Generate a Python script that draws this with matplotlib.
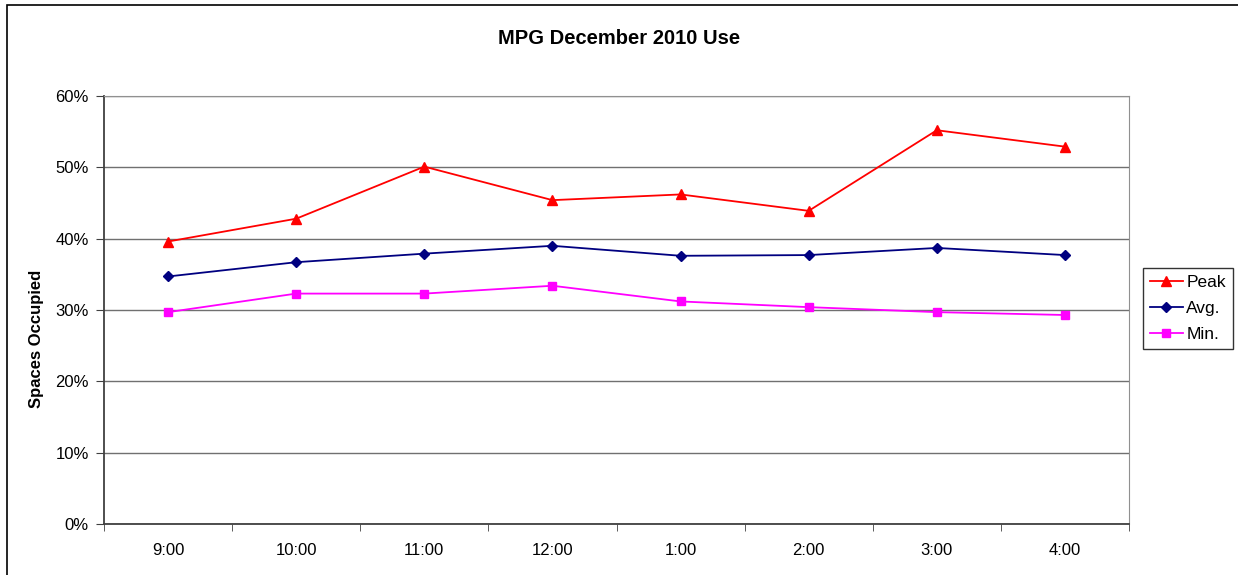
import matplotlib
matplotlib.use('Agg')
import matplotlib.pyplot as plt
from matplotlib.patches import Rectangle
from matplotlib.ticker import FuncFormatter, FixedLocator

hours = ['9:00', '10:00', '11:00', '12:00', '1:00', '2:00', '3:00', '4:00']
peak = [39.6, 42.8, 50.1, 45.4, 46.2, 43.9, 55.2, 52.9]
avg = [34.7, 36.7, 37.9, 39.0, 37.6, 37.7, 38.7, 37.7]
mins = [29.7, 32.3, 32.3, 33.4, 31.2, 30.4, 29.7, 29.3]

plt.rcParams['font.family'] = ['Liberation Sans', 'DejaVu Sans']

fig = plt.figure(figsize=(12.38, 5.75), dpi=100)
ax = fig.add_axes([104/1238, 1-524/575, (1129-104)/1238, (524-96)/575])

x = list(range(len(hours)))
ax.plot(x, peak, color='#ff0000', marker='^', markersize=7, lw=1.3, label='Peak')
ax.plot(x, avg, color='#000080', marker='D', markersize=5, lw=1.3, label='Avg.')
ax.plot(x, mins, color='#ff00ff', marker='s', markersize=6, lw=1.3, label='Min.')

ax.set_xlim(-0.5, len(hours)-0.5)
ax.set_ylim(0, 60)
ax.set_yticks(range(0, 61, 10))
ax.yaxis.set_major_formatter(FuncFormatter(lambda v, p: '%d%%' % v))
ax.set_xticks(x)
ax.set_xticklabels(hours)
ax.xaxis.set_minor_locator(FixedLocator([i-0.5 for i in range(len(hours)+1)]))
ax.tick_params(axis='x', which='major', length=0, pad=14, labelsize=12)
ax.tick_params(axis='x', which='minor', length=5, direction='out', color='#404040')
ax.tick_params(axis='y', length=6, direction='out', color='#404040', labelsize=12, pad=5)

ax.grid(axis='y', color='#707070', lw=1)
ax.set_axisbelow(True)
for s in ['top', 'right']:
    ax.spines[s].set_color('#909090')
for s in ['left', 'bottom']:
    ax.spines[s].set_color('#404040')
    ax.spines[s].set_linewidth(1.3)

fig.text(37/1238, 1-339/575, 'Spaces Occupied', rotation=90, ha='center', va='center',
         fontsize=12, fontweight='bold')
fig.text(0.5, 1-38/575, 'MPG December 2010 Use', ha='center', va='center',
         fontsize=14.5, fontweight='bold')

leg = fig.legend(loc='upper left', bbox_to_anchor=(1143/1238, 1-268/575), borderaxespad=0,
                 frameon=True, fancybox=False, edgecolor='black', fontsize=12.5,
                 handlelength=1.9, borderpad=0.4, labelspacing=0.62, handletextpad=0.2)
leg.get_frame().set_linewidth(1)

fig.patches.append(Rectangle((7/1238, -0.1), 1.2, 1-5/575+0.1, transform=fig.transFigure,
                             fill=False, edgecolor='black', lw=1.2))

fig.savefig('out.png', dpi=100)
